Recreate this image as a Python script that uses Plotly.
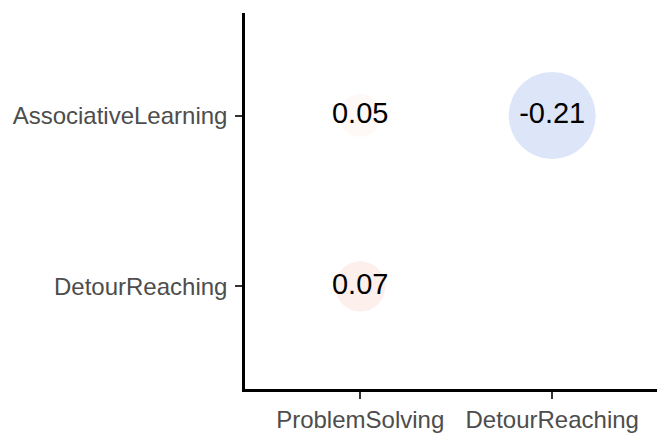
import numpy as np
import plotly.graph_objects as go

# Correlation matrix (lower triangle only)
x_vars = ["ProblemSolving", "DetourReaching"]
y_vars = ["AssociativeLearning", "DetourReaching"]
pair_x = ["ProblemSolving", "DetourReaching", "ProblemSolving"]
pair_y = ["AssociativeLearning", "AssociativeLearning", "DetourReaching"]
corr = [0.05, -0.21, 0.07]

# numeric positions: x left->right, y bottom->top
x_pos = {name: i + 1 for i, name in enumerate(x_vars)}
y_pos = {name: len(y_vars) - i for i, name in enumerate(y_vars)}
xs = [x_pos[v] for v in pair_x]
ys = [y_pos[v] for v in pair_y]

# circle area proportional to |r|
vals = np.array(corr)
max_diam = 87
diam = max_diam * np.sqrt(np.abs(vals) / np.abs(vals).max())

# diverging blue-white-red scale over [-1, 1], very pale near zero
colorscale = [
    [0.0, "#4a78d8"],
    [0.395, "#dde6f9"],
    [0.5, "#ffffff"],
    [0.525, "#fef8f7"],
    [0.535, "#fcefec"],
    [1.0, "#e0533c"],
]

fig = go.Figure()
fig.add_trace(go.Scatter(
    x=xs, y=ys, mode="markers",
    marker=dict(size=diam, color=vals, colorscale=colorscale, cmin=-1, cmax=1,
                line=dict(width=0), opacity=1),
    hoverinfo="skip", showlegend=False,
))
fig.add_trace(go.Scatter(
    x=xs, y=ys, mode="text",
    text=[f"{v:.2f}" for v in corr],
    textfont=dict(family="Liberation Sans, Arial, sans-serif", size=29, color="#000000"),
    textposition="middle center",
    hoverinfo="skip", showlegend=False,
))

W, H = 657, 433
ml, mt, mb = 245, 13, 42
px_per_unit_x = 192
x_hi = 0.4 + (W - ml) / px_per_unit_x

axis_common = dict(
    showgrid=False, zeroline=False, showline=True, linecolor="#000000", linewidth=2.5,
    ticks="outside", ticklen=7, tickwidth=2, tickcolor="#333333",
    tickfont=dict(family="Liberation Sans, Arial, sans-serif", size=24, color="#4d4d4d"),
    fixedrange=True,
)

fig.update_layout(
    width=W, height=H,
    margin=dict(l=ml, r=0, t=mt, b=mb, pad=0),
    paper_bgcolor="#ffffff", plot_bgcolor="#ffffff",
    xaxis=dict(range=[0.4, x_hi], tickvals=list(x_pos.values()), ticktext=list(x_pos.keys()),
               ticklabelstandoff=0, **axis_common),
    yaxis=dict(range=[0.4, 2.6], tickvals=list(y_pos.values()), ticktext=list(y_pos.keys()),
               ticklabelstandoff=3, **axis_common),
)

fig.write_html("out.html")
